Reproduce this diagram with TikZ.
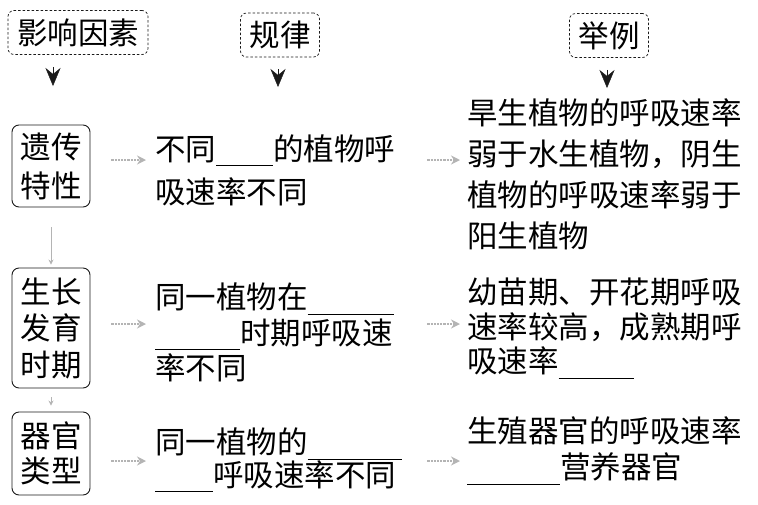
\documentclass[tikz,border=0pt]{standalone}
\usepackage{fontspec}
\setmainfont{Noto Sans CJK SC}
\usetikzlibrary{arrows.meta,positioning,calc}
\definecolor{ink}{HTML}{1A1A1A}
\definecolor{pale}{HTML}{B4B4B4}
\newcommand\blank[1]{\rule[-6pt]{#1}{0.9pt}}
\tikzset{hdbox/.style={draw=ink,dash pattern=on 2.5pt off 2pt,rounded corners=6pt,minimum height=44pt,inner xsep=9pt,line width=0.7pt,font=\fontsize{30.5}{36}\selectfont},factor/.style={draw=ink,rounded corners=7pt,minimum width=78pt,align=center,inner sep=0pt,line width=0.9pt},txt/.style={anchor=base west,inner sep=0pt,align=left},flow/.style={draw=pale,line width=2.2pt,densely dotted,shorten <=21pt,shorten >=9pt,-{Stealth[length=9pt,width=9pt]}},link/.style={draw=pale,line width=1pt,-{Stealth[length=5pt,width=5pt]}},headtip/.style={draw=ink,line width=0.4pt,shorten <=12pt,-{Stealth[length=18pt,width=15pt,inset=6pt]}}}

\begin{document}
\begin{tikzpicture}[x=1pt,y=-1pt]
\useasboundingbox (0,0) rectangle (758,504);
\node[hdbox] (hd1) at (78,32.5) {影响因素};
\node[hdbox] (hd2) at (280,35) {规律};
\node[hdbox] (hd3) at (609,35.5) {举例};
\coordinate (k1) at (53,86);\coordinate (k2) at (278,87);\coordinate (k3) at (607,88);
\foreach \i in {1,2,3}{\draw[headtip] (hd\i.south -| k\i) -- (k\i);}
\node[factor,minimum height=82pt,font=\fontsize{30.5}{39}\selectfont] (f1) at (51,166) {遗传\\特性};
\node[factor,minimum height=120pt,font=\fontsize{30.5}{36.5}\selectfont] (f2) at (51,328) {生长\\发育\\时期};
\node[factor,minimum height=83pt,font=\fontsize{30.5}{35}\selectfont] (f3) at (51,453.5) {器官\\类型};
\draw[link,shorten <=20pt,shorten >=3pt] (f1) -- (f2);
\draw[link,shorten <=9pt,shorten >=6pt] (f2) -- (f3);
\node[txt,text width=250pt,font=\fontsize{30.5}{43.5}\selectfont] (r1) at (155,160) {不同\blank{57pt}的植物呼\\吸速率不同};
\node[txt,text width=250pt,font=\fontsize{30.5}{35.5}\selectfont] (r2) at (155,308.5) {同一植物在\blank{86pt}\\\blank{85pt}时期呼吸速\\率不同};
\node[txt,text width=250pt,font=\fontsize{30.5}{31}\selectfont] (r3) at (155,453.5) {同一植物的\blank{94pt}\\\blank{58pt}呼吸速率不同};
\node[txt,text width=290pt,font=\fontsize{30.5}{41}\selectfont] (e1) at (467,124.5) {旱生植物的呼吸速率\\弱于水生植物，阴生\\植物的呼吸速率弱于\\阳生植物};
\node[txt,text width=290pt,font=\fontsize{30.5}{34.5}\selectfont] (e2) at (467,303.5) {幼苗期、开花期呼吸\\速率较高，成熟期呼\\吸速率\blank{75pt}};
\node[txt,text width=290pt,font=\fontsize{30.5}{36}\selectfont] (e3) at (467,442.5) {生殖器官的呼吸速率\\\blank{93pt}营养器官};
\coordinate (y1) at (0,160);\coordinate (y2) at (0,324);\coordinate (y3) at (0,461);
\foreach \i in {1,2,3}{\draw[flow] (f\i.east |- y\i) -- (r\i.west |- y\i);
\draw[flow,shorten <=22pt,shorten >=7pt] (r\i.east |- y\i) -- (e\i.west |- y\i);}
\end{tikzpicture}
\end{document}
